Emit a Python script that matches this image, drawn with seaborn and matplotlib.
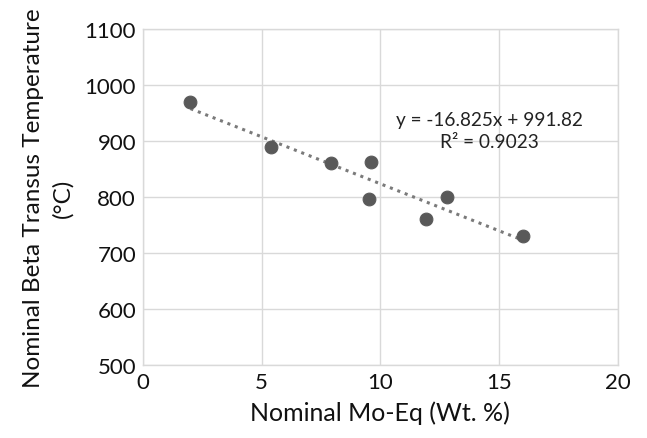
import matplotlib
matplotlib.use("Agg")
import matplotlib.pyplot as plt
import numpy as np
import pandas as pd
import seaborn as sns

mo_eq = [2.0, 5.4, 7.9, 9.6, 9.5, 11.9, 12.8, 16.0]
beta_transus = [970, 890, 860, 863, 797, 760, 800, 730]
equation_text = "y = -16.825x + 991.82\nR² = 0.9023"

df = pd.DataFrame({"mo_eq": mo_eq, "beta_transus": beta_transus})

sns.set_style("whitegrid", {"grid.color": "#d9d9d9", "axes.edgecolor": "#d9d9d9"})
plt.rcParams["font.family"] = ["Lato", "DejaVu Sans"]

fig = plt.figure(figsize=(6.47, 4.39), dpi=100)
ax = fig.add_axes([0.221, 0.166, 0.734, 0.766])

# linear trendline, dotted, over the data range
sns.regplot(data=df, x="mo_eq", y="beta_transus", ax=ax, ci=None, scatter=False,
            truncate=True,
            line_kws={"color": "#7a7a7a", "linestyle": (0, (1, 1.6)), "linewidth": 2.2})
sns.scatterplot(data=df, x="mo_eq", y="beta_transus", ax=ax, s=85,
                color="#595959", edgecolor="#595959", zorder=3)

ax.text(14.6, 918, equation_text, ha="center", va="center", fontsize=13.7,
        color="#222222", linespacing=1.35)

ax.set_xlim(0, 20)
ax.set_ylim(500, 1100)
ax.set_xticks([0, 5, 10, 15, 20])
ax.set_yticks(np.arange(500, 1101, 100))
ax.tick_params(axis="both", length=0, labelsize=16, colors="#111111", pad=5)
ax.grid(True, linewidth=1)
for s in ax.spines.values():
    s.set_linewidth(1)

ax.set_xlabel("Nominal Mo-Eq (Wt. %)", fontsize=18, color="#111111", labelpad=6)
ax.set_ylabel("Nominal Beta Transus Temperature\n(°C)", fontsize=17.5,
              color="#111111", labelpad=8, linespacing=1.45)

fig.savefig("out.png", dpi=100)
plt.close(fig)
